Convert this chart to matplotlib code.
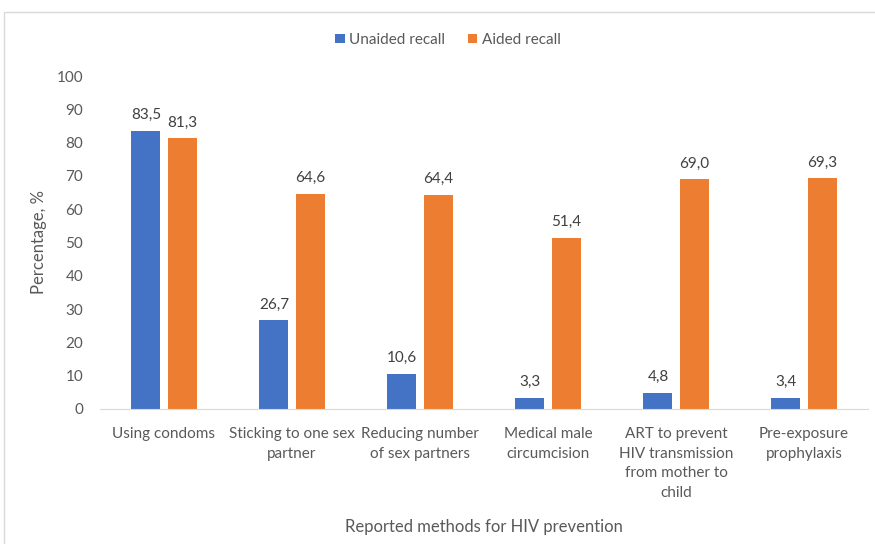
import numpy as np
import matplotlib.pyplot as plt
from matplotlib.patches import Rectangle

plt.rcParams['font.family'] = ['Lato', 'DejaVu Sans']

categories = [
    "Using condoms",
    "Sticking to one sex\npartner",
    "Reducing number\nof sex partners",
    "Medical male\ncircumcision",
    "ART to prevent\nHIV transmission\nfrom mother to\nchild",
    "Pre-exposure\nprophylaxis",
]
unaided = [83.5, 26.7, 10.6, 3.3, 4.8, 3.4]
aided = [81.3, 64.6, 64.4, 51.4, 69.0, 69.3]

blue = "#4472C4"
orange = "#ED7D31"
text_col = "#595959"

fig = plt.figure(figsize=(8.75, 5.44), dpi=100)
ax = fig.add_axes([100 / 875, 1 - 409 / 544, 768 / 875, 333 / 544])

# outer chart frame (only top and left edges fall inside the image)
fig.patches.append(Rectangle((4 / 875, -0.1), 1.2, 1 - 12 / 544 + 0.1,
                             transform=fig.transFigure, fill=False,
                             edgecolor="#d9d9d9", linewidth=1))

x = np.arange(len(categories))
w = 0.227
off = 0.141
b1 = ax.bar(x - off, unaided, w, color=blue, label="Unaided recall")
b2 = ax.bar(x + off, aided, w, color=orange, label="Aided recall")

for bars, vals in ((b1, unaided), (b2, aided)):
    for rect, v in zip(bars, vals):
        ax.text(rect.get_x() + rect.get_width() / 2, v + 2.6,
                f"{v:.1f}".replace(".", ","), ha="center", va="bottom",
                fontsize=11, color="#404040")

ax.set_xlim(-0.5, len(categories) - 0.5)
ax.set_ylim(0, 100)
ax.set_yticks(range(0, 101, 10))
ax.set_xticks(x)
ax.set_xticklabels(categories, fontsize=11, color=text_col, linespacing=1.5)
ax.tick_params(axis="y", labelsize=11, labelcolor=text_col, length=0, pad=12)
ax.tick_params(axis="x", length=0, pad=13)

for s in ("top", "right", "left"):
    ax.spines[s].set_visible(False)
ax.spines["bottom"].set_color("#d9d9d9")

ax.set_ylabel("Percentage, %", fontsize=12, color=text_col, labelpad=7)
ax.set_xlabel("Reported methods for HIV prevention", fontsize=12,
              color=text_col, labelpad=14)

fig.legend(loc="center", bbox_to_anchor=(448 / 875, 1 - 40 / 544), ncol=2,
           frameon=False, fontsize=11, handlelength=0.6, handleheight=0.6,
           handletextpad=0.3, columnspacing=1.5, labelcolor=text_col)

fig.savefig("out.png", dpi=100)
